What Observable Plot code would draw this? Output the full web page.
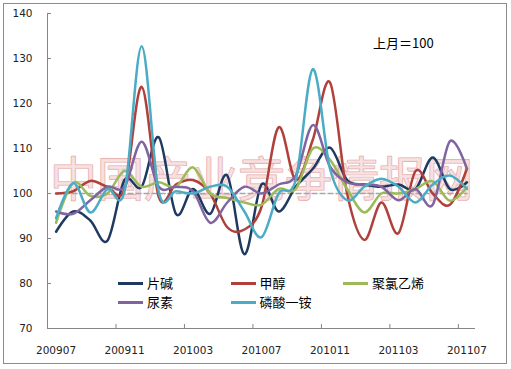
<!DOCTYPE html>
<html><head><meta charset="utf-8">
<script src="https://cdn.jsdelivr.net/npm/d3@7"></script>
<script src="https://cdn.jsdelivr.net/npm/@observablehq/plot@0.6"></script>
<style>
body{margin:0;background:#fff;}
#wrap{position:relative;width:511px;height:369px;overflow:hidden;background:#fff;}
#border{position:absolute;left:3px;top:3px;width:502px;height:359px;border:1px solid #8c8c8c;pointer-events:none;}
#legend{position:absolute;left:118px;top:274px;font-family:"Noto Sans CJK SC";font-size:13px;line-height:18px;color:#000;}
.item{position:absolute;display:flex;align-items:center;white-space:nowrap;}
.sw{display:inline-block;width:25px;height:3px;margin-right:4px;}
#note{position:absolute;left:373px;top:34px;font-family:"Noto Sans CJK SC";font-size:13px;line-height:18px;color:#000;}
</style></head>
<body><div id="wrap"><div id="chart"></div><div id="legend"></div><div id="note"></div><div id="border"></div></div>
<script>
const months = ["200907","200908","200909","200910","200911","200912","201001","201002","201003","201004","201005","201006","201007","201008","201009","201010","201011","201012","201101","201102","201103","201104","201105","201106","201107"];
const seriesNames = ["片碱","甲醇","聚氯乙烯","尿素","磷酸一铵"];
const seriesColors = ["#1f3a60","#b0403c","#9bbb59","#8064a2","#4bacc6"];
const pianjian  = [91.5, 96, 94, 89.5, 103, 101.5, 112.5, 95.5, 101, 95.5, 104, 86.5, 102, 96, 101.5, 105.5, 110.2, 103, 102, 101.5, 102, 101, 108, 101, 102.5];
const jiachun   = [100, 100.5, 102.8, 101.5, 101, 123.7, 99.2, 102, 103, 100, 92.5, 92, 97, 114.7, 103, 112, 124.7, 100, 89.7, 98, 91.2, 105, 100, 97.5, 105.5];
const juluyixi  = [93.5, 102.4, 99.5, 100, 105, 101.5, 102.5, 101.5, 105.8, 100, 99, 98, 97.5, 101, 101, 110, 107.5, 101, 95.8, 100, 100, 101, 102.7, 98.4, 101.4];
const niaosu    = [96, 95.5, 98.5, 101.5, 101.5, 111.5, 101.5, 101.5, 100.5, 93.5, 98, 101.5, 100, 102, 104, 115.2, 106, 102.5, 102, 101.5, 98.5, 101, 97.5, 111.6, 105.5];
const linsuanyian = [94.5, 102.3, 95.8, 101, 100.5, 132.7, 100.3, 100.5, 100, 101.5, 101.5, 96, 90.3, 100, 103, 127.6, 105.5, 98.5, 101.5, 103.3, 101.5, 98, 102, 104, 101];
const seriesValues = [pianjian, jiachun, juluyixi, niaosu, linsuanyian];
const yTicks = [70, 80, 90, 100, 110, 120, 130, 140];
const labelEvery = 4;
const baseline = 100;
const watermark = "中国产业竞争情报网";
const noteText = "上月＝100";

const rows = seriesNames.flatMap((name, k) => seriesValues[k].map((v, i) => ({name, i, v})));
const baseRows = months.map((m, i) => ({i, v: baseline}));
const xDomain = [-0.5, months.length - 0.5];
const labelIdx = months.map((m, i) => i).filter(i => i % labelEvery === 0);
const boundaries = months.map((m, i) => i + 0.5).filter(b => (b + 0.5) % labelEvery === 0 && b < months.length - 1);

const chart = Plot.plot({
  width: 511, height: 369,
  marginLeft: 47, marginRight: 36, marginTop: 13, marginBottom: 41,
  style: {fontFamily: "DejaVu Sans", fontSize: "10.5px", color: "#222", background: "transparent"},
  x: {type: "linear", domain: xDomain, label: null},
  y: {domain: [yTicks[0], yTicks[yTicks.length - 1]], label: null},
  color: {domain: seriesNames, range: seriesColors},
  marks: [
    Plot.text([watermark], {frameAnchor: "middle", text: d => d, dy: 10, fontSize: 47, fontFamily: "Noto Sans CJK SC",
      fill: "#f6dcdc", stroke: "#e3a9a9", strokeWidth: 1.2, fillOpacity: 0.85}),
    Plot.line(baseRows, {x: "i", y: "v", stroke: "#a6a6a6", strokeWidth: 1.5, strokeDasharray: "5,3"}),
    Plot.line(rows, {x: "i", y: "v", z: "name", stroke: "name", strokeWidth: 2.5, curve: "cardinal"}),
    Plot.ruleX([xDomain[0]], {stroke: "#868686"}),
    Plot.ruleY([yTicks[0]], {stroke: "#868686"}),
    Plot.axisY(yTicks, {tickSize: 0, tickPadding: 15}),
    Plot.axisY(yTicks, {tickSize: 4, dx: 4, tickFormat: () => "", stroke: "#868686"}),
    Plot.axisX(labelIdx, {tickSize: 0, tickPadding: 18, tickFormat: i => months[i]}),
    Plot.axisX(boundaries, {tickSize: 4, dy: -4, tickFormat: () => "", stroke: "#868686"})
  ]
});
document.getElementById("chart").appendChild(chart);

const legend = document.getElementById("legend");
seriesNames.forEach((name, k) => {
  const item = document.createElement("div");
  item.className = "item";
  item.style.left = (k % 3) * 112.5 + "px";
  item.style.top = Math.floor(k / 3) * 19 + "px";
  const sw = document.createElement("span");
  sw.className = "sw";
  sw.style.background = seriesColors[k];
  const t = document.createElement("span");
  t.textContent = name;
  item.appendChild(sw);
  item.appendChild(t);
  legend.appendChild(item);
});
document.getElementById("note").textContent = noteText;
</script>
</body></html>
